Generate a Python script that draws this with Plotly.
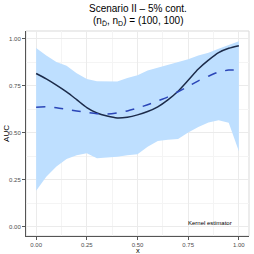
import plotly.graph_objects as go

x_vals = [0.00, 0.05, 0.10, 0.15, 0.20, 0.25, 0.30, 0.35, 0.40, 0.45, 0.50,
          0.55, 0.60, 0.65, 0.70, 0.75, 0.80, 0.85, 0.90, 0.95, 1.00]
band_upper = [0.950, 0.910, 0.875, 0.855, 0.815, 0.785, 0.773, 0.772, 0.772, 0.790, 0.805,
              0.830, 0.845, 0.858, 0.875, 0.890, 0.910, 0.925, 0.945, 0.965, 0.985]
band_lower = [0.190, 0.265, 0.320, 0.360, 0.380, 0.390, 0.363, 0.367, 0.372, 0.380, 0.385,
              0.425, 0.455, 0.462, 0.466, 0.500, 0.530, 0.554, 0.566, 0.552, 0.400]
true_auc = [0.814, 0.785, 0.752, 0.716, 0.675, 0.633, 0.604, 0.588, 0.578, 0.582, 0.594,
            0.612, 0.637, 0.674, 0.720, 0.778, 0.838, 0.885, 0.925, 0.948, 0.962]
mean_est = [0.635, 0.637, 0.632, 0.624, 0.615, 0.607, 0.600, 0.598, 0.604, 0.615, 0.630,
            0.648, 0.668, 0.690, 0.717, 0.745, 0.775, 0.800, 0.822, 0.832, 0.833]
x_ticks = [0.00, 0.25, 0.50, 0.75, 1.00]
x_tick_labels = ["0.00", "0.25", "0.50", "0.75", "1.00"]
y_ticks = [0.00, 0.25, 0.50, 0.75, 1.00]
y_tick_labels = ["0.00", "0.25", "0.50", "0.75", "1.00"]

FONT = "Liberation Sans, Arial, sans-serif"

fig = go.Figure()
fig.add_trace(go.Scatter(x=x_vals, y=band_lower, mode="lines", line=dict(width=0),
                         showlegend=False, hoverinfo="skip"))
fig.add_trace(go.Scatter(x=x_vals, y=band_upper, mode="lines", line=dict(width=0),
                         fill="tonexty", fillcolor="#BEDFFF", showlegend=False))
fig.add_trace(go.Scatter(x=x_vals, y=true_auc, mode="lines",
                         line=dict(color="#1C2B4A", width=1.5, shape="spline", smoothing=0.8),
                         showlegend=False))
fig.add_trace(go.Scatter(x=x_vals, y=mean_est, mode="lines",
                         line=dict(color="#2B46B8", width=1.5, dash="dash", shape="spline", smoothing=0.8),
                         showlegend=False))

fig.add_shape(type="rect", xref="paper", yref="paper", x0=0, y0=0, x1=1, y1=1,
              line=dict(color="#D9D9D9", width=1), layer="below")

fig.add_annotation(x=0.86, y=0.02, text="Kernel estimator", showarrow=False,
                   font=dict(size=6, color="black", family=FONT))
fig.add_annotation(xref="paper", yref="paper", x=0.5, y=1.112, text="Scenario II – 5% cont.",
                   showarrow=False, xanchor="center", yanchor="middle",
                   font=dict(size=10, color="black", family=FONT))
fig.add_annotation(xref="paper", yref="paper", x=0.5, y=1.05,
                   text="(n<sub>D̄</sub>, n<sub>D</sub>) = (100, 100)",
                   showarrow=False, xanchor="center", yanchor="middle",
                   font=dict(size=10, color="black", family=FONT))
fig.add_annotation(xref="paper", yref="paper", x=0.5, y=-0.07, text="x",
                   showarrow=False, xanchor="center", yanchor="middle",
                   font=dict(size=7.5, color="black", family=FONT))
fig.add_annotation(xref="paper", yref="paper", x=-0.088, y=0.5, text="AUC", textangle=-90,
                   showarrow=False, xanchor="center", yanchor="middle",
                   font=dict(size=8, color="black", family=FONT))

fig.update_layout(
    width=254, height=254,
    margin=dict(l=26, r=5, t=31, b=18),
    paper_bgcolor="white", plot_bgcolor="white",
    font=dict(family=FONT, color="#4D4D4D"),
)
fig.update_xaxes(range=[-0.05, 1.05], tickvals=x_ticks, ticktext=x_tick_labels,
                 showline=True, linecolor="#555555", linewidth=1, ticks="outside",
                 ticklen=3, tickcolor="#555555", tickfont=dict(size=6, color="#4D4D4D"),
                 showgrid=True, gridcolor="#EBEBEB", gridwidth=1, zeroline=False,
                 minor=dict(showgrid=True, gridcolor="#F4F4F4", dtick=0.125, tick0=0.125))
fig.update_yaxes(range=[-0.05, 1.04], tickvals=y_ticks, ticktext=y_tick_labels,
                 showline=True, linecolor="#555555", linewidth=1, ticks="outside",
                 ticklen=3, tickcolor="#555555", tickfont=dict(size=6, color="#4D4D4D"),
                 showgrid=True, gridcolor="#EBEBEB", gridwidth=1, zeroline=False,
                 minor=dict(showgrid=True, gridcolor="#F4F4F4", dtick=0.125, tick0=0.125))

fig.write_html("out.html", config={"displayModeBar": False},
               post_script="document.body.style.margin='0';document.body.style.overflow='hidden';")
